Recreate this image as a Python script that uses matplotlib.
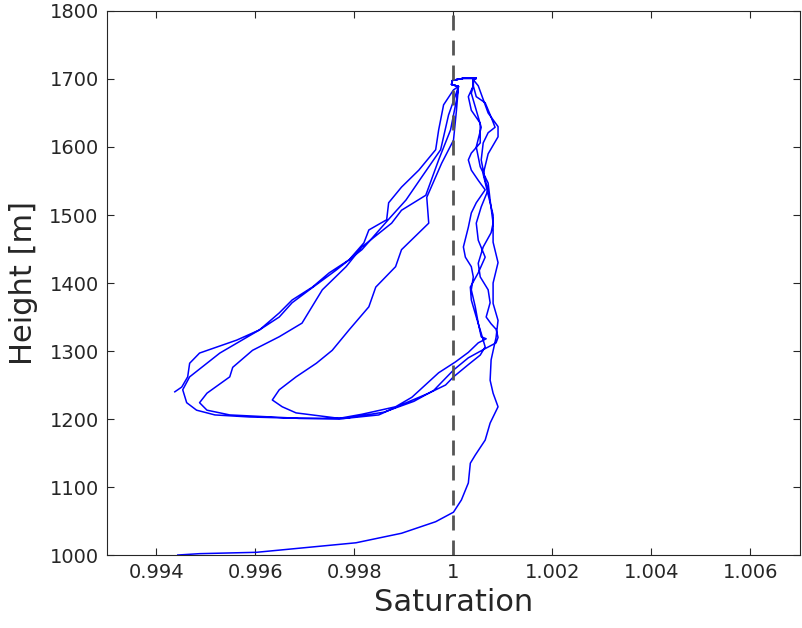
import numpy as np
import matplotlib
matplotlib.use("Agg")
import matplotlib.pyplot as plt

# parcel trajectory in pieces
# first rise from the ground up the right side
sat_rise0 = [0.99443, 0.99487, 0.99602, 0.99688, 0.99803, 0.99895, 0.99964, 1.0, 1.00016, 1.0003,
             1.00034, 1.00044, 1.00064, 1.00074, 1.0009, 1.0008, 1.00074, 1.00076, 1.00086, 1.0009,
             1.0008, 1.0008, 1.0009, 1.0008, 1.0008, 1.0007, 1.0006, 1.0007, 1.0009, 1.0009,
             1.0007, 1.0006, 1.0005]
h_rise0 = [1000, 1002, 1004, 1010, 1018, 1032, 1049, 1063, 1081, 1106,
           1135, 1147, 1169, 1194, 1218, 1238, 1257, 1287, 1320, 1345,
           1370, 1400, 1430, 1460, 1500, 1530, 1560, 1590, 1615, 1630,
           1650, 1670, 1690]

# small loop at the cloud top
sat_top = [1.0004, 1.00046, 1.0002, 0.99998, 0.99996, 1.0001]
h_top = [1699, 1701, 1701, 1698, 1692, 1689]

# descending branches on the left
sat_left1 = [1.00006, 1.0, 0.99976, 0.99964, 0.99946, 0.9995, 0.99895, 0.99883, 0.99843, 0.99829,
             0.99789, 0.99755, 0.99723, 0.99682, 0.99648, 0.99634, 0.99654, 0.99682]
h_left1 = [1654, 1610, 1576, 1556, 1526, 1488, 1449, 1424, 1394, 1365,
           1331, 1301, 1282, 1262, 1243, 1228, 1218, 1209]
sat_left2 = [1.00006, 0.99994, 0.9997, 0.99944, 0.99895, 0.99875, 0.99815, 0.99783, 0.99735, 0.99694,
             0.99648, 0.99594, 0.99554, 0.99548, 0.99502, 0.99487, 0.99502, 0.99548, 0.99688]
h_left2 = [1669, 1625, 1581, 1529, 1507, 1488, 1453, 1424, 1390, 1341,
           1321, 1301, 1276, 1262, 1238, 1224, 1213, 1206, 1201]
sat_left3 = [1.00004, 0.9999, 0.99974, 0.99936, 0.99904, 0.99873, 0.99815, 0.99763, 0.99709, 0.99674,
             0.99648, 0.99608, 0.99528, 0.99467, 0.99453, 0.99461, 0.99481, 0.99518, 0.99588, 0.99688]
h_left3 = [1676, 1647, 1596, 1556, 1522, 1497, 1449, 1419, 1390, 1371,
           1350, 1331, 1297, 1262, 1243, 1224, 1213, 1206, 1203, 1201]
sat_left4 = [1.0, 0.9998, 0.9997, 0.99964, 0.9993, 0.99895, 0.99869, 0.99865, 0.99829, 0.99819,
             0.99789, 0.99749, 0.99715, 0.99674, 0.99648, 0.99608, 0.99562, 0.99487, 0.99467, 0.99463,
             0.99451, 0.99437]
h_left4 = [1684, 1662, 1625, 1596, 1566, 1541, 1518, 1493, 1478, 1459,
           1434, 1415, 1394, 1375, 1356, 1331, 1316, 1297, 1282, 1262,
           1247, 1240]

# crossings along the 1200 m base back to the right side
sat_base1 = [0.99769, 0.99815, 0.99883, 0.99916, 0.9997, 1.00004, 1.0003, 1.0005, 1.00066, 1.00056]
h_base1 = [1201, 1207, 1218, 1232, 1268, 1284, 1298, 1312, 1318, 1321]
sat_base2 = [0.99769, 0.99849, 0.99895, 0.9995, 0.99984, 1.0, 1.0003, 1.00054, 1.00064]
h_base2 = [1200, 1206, 1221, 1238, 1250, 1262, 1280, 1294, 1306]
sat_base3 = [0.99779, 0.99859, 0.9992, 0.9996, 1.0, 1.0003, 1.0006, 1.00086, 1.0009]
h_base3 = [1201, 1210, 1226, 1242, 1272, 1290, 1302, 1312, 1320]

# rising strands on the right side
sat_up1 = [1.0005, 1.00044, 1.00036, 1.0004, 1.00036, 1.00024, 1.0002, 1.0003, 1.00036, 1.00046,
           1.00064, 1.0005, 1.00036, 1.0003, 1.00036, 1.00054, 1.00054, 1.00036, 1.0003, 1.0004]
h_up1 = [1341, 1365, 1390, 1409, 1424, 1438, 1453, 1482, 1503, 1518,
         1537, 1551, 1566, 1581, 1591, 1606, 1635, 1654, 1674, 1690]
sat_up2 = [1.00056, 1.00046, 1.00036, 1.00034, 1.0005, 1.00064, 1.0005, 1.00046, 1.00056, 1.0007,
           1.00064, 1.00056, 1.0006, 1.0007, 1.00084, 1.00076, 1.00064, 1.00046, 1.0004]
h_up2 = [1326, 1350, 1375, 1394, 1415, 1438, 1463, 1488, 1512, 1537,
         1551, 1581, 1606, 1621, 1629, 1644, 1665, 1674, 1690]
sat_up3 = [1.00086, 1.00076, 1.00066, 1.00074, 1.0007, 1.00054, 1.0005, 1.0006, 1.00076, 1.0008,
           1.00074, 1.0007, 1.00054, 1.00046, 1.00056, 1.00046, 1.00036, 1.0004]
h_up3 = [1332, 1340, 1350, 1371, 1390, 1409, 1429, 1453, 1474, 1488,
         1522, 1547, 1571, 1600, 1629, 1654, 1679, 1690]

sat = np.concatenate([sat_rise0, sat_top, sat_left1, sat_base1, sat_up1, sat_top,
                      sat_left2, sat_base2, sat_up2, sat_top,
                      sat_left3, sat_base3, sat_up3, sat_top, sat_left4])
height = np.concatenate([h_rise0, h_top, h_left1, h_base1, h_up1, h_top,
                         h_left2, h_base2, h_up2, h_top,
                         h_left3, h_base3, h_up3, h_top, h_left4])

fig = plt.figure(figsize=(8.02, 6.28), dpi=100)
ax = fig.add_axes([0.1334, 0.1162, 0.8641, 0.8663])

ax.plot(sat, height, color="blue", lw=1.1)
ax.axvline(1.0, color="#555555", lw=2.0, ls=(0, (5.4, 3.6)))

ax.set_xlim(0.993, 1.007)
ax.set_ylim(1000, 1800)
ax.set_xticks([0.994, 0.996, 0.998, 1.0, 1.002, 1.004, 1.006])
ax.set_xticklabels(["0.994", "0.996", "0.998", "1", "1.002", "1.004", "1.006"])
ax.set_yticks(np.arange(1000, 1801, 100))

ax.tick_params(direction="in", length=5, width=0.8, colors="#262626",
               labelsize=14, top=True, right=True, pad=6)
for s in ax.spines.values():
    s.set_color("#262626")
    s.set_linewidth(0.8)

ax.set_xlabel("Saturation", fontsize=22, color="#262626", labelpad=4)
ax.set_ylabel("Height [m]", fontsize=22, color="#262626", labelpad=8)

fig.savefig("out.png", dpi=100)
